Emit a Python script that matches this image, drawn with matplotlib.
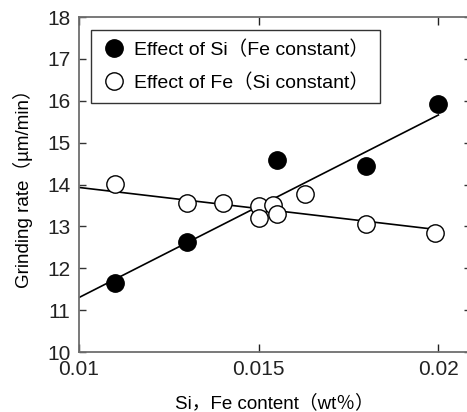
import matplotlib
matplotlib.use("Agg")
import matplotlib.pyplot as plt
import numpy as np

plt.rcParams['font.family'] = ['Liberation Sans', 'Noto Sans CJK JP', 'DejaVu Sans']

# Effect of Si (Fe constant)
si_x = [0.011, 0.013, 0.0155, 0.018, 0.020]
si_y = [11.65, 12.63, 14.59, 14.45, 15.92]

# Effect of Fe (Si constant)
fe_x = [0.011, 0.013, 0.014, 0.015, 0.015, 0.0154, 0.0155, 0.0163, 0.018, 0.0199]
fe_y = [14.02, 13.57, 13.56, 13.49, 13.20, 13.51, 13.30, 13.78, 13.05, 12.84]

# fitted lines (end points)
si_fit_x = [0.010, 0.020]
si_fit_y = [11.30, 15.66]
fe_fit_x = [0.010, 0.0199]
fe_fit_y = [13.93, 12.93]

xticks = [0.01, 0.015, 0.02]
xtick_labels = ["0.01", "0.015", "0.02"]
yticks = np.arange(10, 19, 1)

fig = plt.figure(figsize=(4.67, 4.12), dpi=100)
ax = fig.add_axes([0.169, 0.1456, 0.839, 0.8131])

ax.plot(si_fit_x, si_fit_y, color="black", lw=1.2, zorder=2)
ax.plot(fe_fit_x, fe_fit_y, color="black", lw=1.2, zorder=2)

ax.plot(si_x, si_y, "o", ms=12.5, mfc="black", mec="black", mew=1.0,
        ls="none", zorder=3, label="Effect of Si（Fe constant）")
ax.plot(fe_x, fe_y, "o", ms=12.5, mfc="white", mec="black", mew=1.0,
        ls="none", zorder=3, label="Effect of Fe（Si constant）")

ax.set_xlim(0.01, 0.0209)
ax.set_ylim(10, 18)
ax.set_xticks(xticks)
ax.set_xticklabels(xtick_labels)
ax.set_yticks(yticks)

for s in ["left", "bottom", "top", "right"]:
    ax.spines[s].set_linewidth(1.3)
    ax.spines[s].set_color("#6e6e6e")

ax.tick_params(axis="y", direction="in", length=5, width=1, labelsize=15,
               right=True, color="#333333", labelcolor="#222222", pad=6)
ax.tick_params(axis="x", direction="in", length=6, width=1, labelsize=15,
               top=True, pad=6, color="#222222", labelcolor="#222222")

ax.set_xlabel("Si，Fe content（wt％）", fontsize=13.5, labelpad=11)
ax.set_ylabel("Grinding rate（µm/min）", fontsize=13.5, labelpad=10)

leg = ax.legend(loc="upper left", bbox_to_anchor=(0.03, 0.962), fontsize=14,
                frameon=True, fancybox=False, edgecolor="black",
                borderpad=0.55, labelspacing=0.75, handletextpad=0.4,
                handlelength=1.3, markerscale=1.0, borderaxespad=0)
leg.get_frame().set_linewidth(1.0)

plt.savefig("out.png", dpi=100)
plt.close()
